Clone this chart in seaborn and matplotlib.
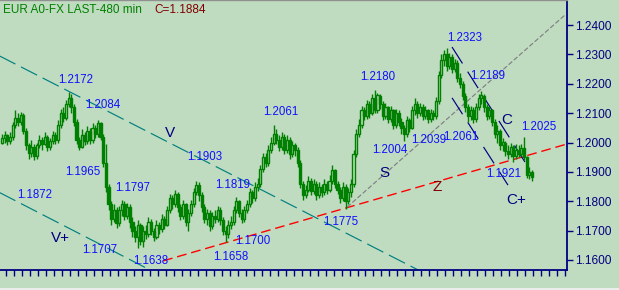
import matplotlib
matplotlib.use("Agg")
import matplotlib.pyplot as plt
import seaborn as sns
import numpy as np
from matplotlib.patches import Rectangle
from matplotlib.ticker import FixedLocator, FuncFormatter

# ---------------- data (prices in 1/10000) ----------------
first_open = 12000
closes = [
    12015, 12025, 12005, 12020, 12060, 12085, 12070, 12095, 12040, 11990,
    11965, 11985, 11955, 11990, 12010, 11995, 12020, 11985, 12005, 12025,
    12010, 12060, 12100, 12085, 12130, 12150, 12120, 12070, 12010, 11985,
    12025, 12005, 12040, 12010, 12050, 12030, 12065, 12020, 11930, 11850,
    11790, 11740, 11770, 11725, 11770, 11790, 11750, 11780, 11730, 11700,
    11680, 11720, 11665, 11700, 11690, 11730, 11700, 11680, 11720, 11705,
    11740, 11720, 11770, 11810, 11790, 11825, 11780, 11750, 11790, 11730,
    11760, 11790, 11830, 11855, 11820, 11780, 11740, 11760, 11715, 11750,
    11740, 11770, 11735, 11700, 11690, 11720, 11730, 11770, 11800, 11760,
    11740, 11770, 11790, 11830, 11810, 11850, 11860, 11910, 11950, 11930,
    11975, 12000, 12030, 12010, 11985, 12020, 11975, 12010, 11960, 11990,
    11975, 11930, 11860, 11820, 11840, 11870, 11835, 11860, 11820, 11850,
    11830, 11860, 11840, 11870, 11905, 11860, 11840, 11810, 11850, 11800,
    11830, 11860, 11960, 12030, 12060, 12110, 12090, 12130, 12100, 12150,
    12110, 12160, 12130, 12090, 12120, 12080, 12110, 12060, 12100, 12070,
    12050, 12030, 12075, 12050, 12110, 12130, 12100, 12120, 12090, 12110,
    12080, 12100, 12090, 12140, 12230, 12280, 12300, 12260, 12290, 12250,
    12270, 12220, 12200, 12160, 12120, 12090, 12110, 12080, 12120, 12150,
    12160, 12120, 12090, 12110, 12070, 12030, 12040, 11990, 12000, 11970,
    11960, 11985, 11955, 11975, 11960, 11980, 11950, 11890, 11900, 11884,
]
highs = [
    12030, 12040, 12030, 12035, 12070, 12110, 12100, 12105, 12100, 12050,
    12000, 12010, 11995, 12000, 12025, 12020, 12035, 12025, 12015, 12040,
    12035, 12075, 12115, 12120, 12145, 12172, 12165, 12130, 12080, 12020,
    12045, 12035, 12055, 12050, 12065, 12060, 12077, 12070, 12030, 11995,
    11860, 11800, 11790, 11780, 11785, 11805, 11800, 11795, 11790, 11745,
    11715, 11735, 11725, 11715, 11720, 11745, 11740, 11710, 11735, 11730,
    11755, 11750, 11785, 11825, 11820, 11838, 11830, 11790, 11805, 11795,
    11775, 11805, 11845, 11870, 11865, 11830, 11790, 11775, 11770, 11765,
    11770, 11785, 11780, 11745, 11715, 11735, 11750, 11785, 11815, 11805,
    11775, 11785, 11805, 11845, 11840, 11865, 11880, 11925, 11965, 11965,
    11990, 12020, 12061, 12045, 12025, 12035, 12030, 12025, 12020, 12005,
    12000, 11985, 11940, 11870, 11855, 11885, 11880, 11875, 11870, 11865,
    11860, 11875, 11870, 11890, 11925, 11910, 11870, 11850, 11865, 11860,
    11845, 11875, 11975, 12045, 12080, 12125, 12120, 12145, 12140, 12165,
    12180, 12170, 12165, 12140, 12135, 12125, 12125, 12115, 12115, 12110,
    12085, 12060, 12090, 12085, 12125, 12150, 12140, 12135, 12130, 12125,
    12115, 12115, 12110, 12155, 12245, 12300, 12315, 12323, 12305, 12300,
    12285, 12280, 12235, 12210, 12170, 12130, 12125, 12120, 12135, 12165,
    12175, 12165, 12130, 12125, 12115, 12080, 12060, 12045, 12015, 12005,
    11990, 12000, 11990, 11995, 11990, 11995, 12020, 11955, 11915, 11905,
]
lows = [
    11995, 12000, 11990, 11995, 12010, 12050, 12055, 12060, 12030, 11975,
    11945, 11950, 11940, 11945, 11980, 11975, 11990, 11970, 11975, 11995,
    11995, 12000, 12050, 12070, 12075, 12120, 12100, 12055, 11995, 11974,
    11980, 11990, 11995, 11995, 12000, 12015, 12020, 12010, 11915, 11830,
    11770, 11720, 11730, 11710, 11715, 11750, 11735, 11740, 11710, 11680,
    11660, 11640, 11650, 11645, 11670, 11680, 11685, 11665, 11670, 11690,
    11695, 11705, 11715, 11760, 11775, 11780, 11765, 11735, 11740, 11715,
    11700, 11750, 11780, 11820, 11800, 11765, 11725, 11720, 11700, 11705,
    11725, 11730, 11720, 11685, 11660, 11675, 11705, 11720, 11760, 11745,
    11725, 11730, 11760, 11780, 11795, 11800, 11835, 11850, 11900, 11915,
    11920, 11965, 11990, 11995, 11970, 11975, 11960, 11965, 11945, 11950,
    11955, 11915, 11845, 11805, 11810, 11830, 11820, 11825, 11805, 11810,
    11815, 11820, 11825, 11830, 11860, 11845, 11825, 11795, 11800, 11775,
    11790, 11815, 11850, 11950, 12020, 12050, 12075, 12080, 12085, 12095,
    12100, 12100, 12115, 12075, 12080, 12065, 12070, 12045, 12050, 12055,
    12030, 12005, 12020, 12035, 12045, 12095, 12085, 12090, 12075, 12080,
    12065, 12070, 12075, 12080, 12130, 12220, 12260, 12245, 12250, 12235,
    12240, 12205, 12185, 12145, 12105, 12070, 12075, 12065, 12070, 12110,
    12130, 12105, 12075, 12080, 12055, 12015, 12000, 11975, 11970, 11955,
    11945, 11950, 11935, 11945, 11950, 11955, 11940, 11880, 11875, 11870,
]

# trend lines: (bar index, price*10000) end points
line_v = [(-1.0, 12295), (156.5, 11565)]
line_vplus = [(-1.0, 11830), (55.8, 11565)]
line_z = [(60.5, 11597), (212.2, 11995)]
line_s = [(129.6, 11780), (211.4, 12434)]
line_c = [(169.0, 12325), (198.3, 11906)]
line_cplus = [(169.0, 12152), (190.0, 11855)]

price_ticks = [1.16, 1.17, 1.18, 1.19, 1.20, 1.21, 1.22, 1.23, 1.24]

# labels: text, pixel x (left), pixel y (center), colour, size
blue = "#1010FF"
labels = [
    ("1.2172", 58, 80, blue, 8.3), ("1.2084", 85, 105, blue, 8.3),
    ("V", 165, 133, "#000080", 11), ("1.1903", 187, 157, blue, 8.3),
    ("1.1965", 65, 172, blue, 8.3), ("1.1872", 17, 195, blue, 8.3),
    ("1.1797", 115, 188, blue, 8.3), ("1.1819", 215, 185, blue, 8.3),
    ("V+", 51, 238, "#000080", 11), ("1.1707", 82, 250, blue, 8.3),
    ("1.1638", 133, 261, blue, 8.3), ("1.1700", 235, 241, blue, 8.3),
    ("1.1658", 213, 257, blue, 8.3), ("1.2061", 263, 112, blue, 8.3),
    ("1.1775", 323, 222, blue, 8.3), ("1.2180", 360, 77, blue, 8.3),
    ("1.2004", 372, 150, blue, 8.3), ("S", 379, 173, "#000080", 11),
    ("1.2039", 411, 140, blue, 8.3), ("1.2061", 443, 137, blue, 8.3),
    ("1.2323", 447, 38, blue, 8.3), ("1.2189", 470, 76, blue, 8.3),
    ("C", 501, 120, "#000080", 11), ("1.2025", 521, 127, blue, 8.3),
    ("1.1921", 486, 174, blue, 8.3), ("Z", 432, 187, "#800000", 11),
    ("C+", 506, 200, "#000080", 11),
]

# ---------------- style ----------------
BG = "#C0DCC0"
GREEN = "#008000"
NAVY = "#000080"
sns.set_theme(style="white", rc={"axes.facecolor": BG, "figure.facecolor": BG,
                                 "lines.scale_dashes": False})
plt.rcParams["font.family"] = ["Liberation Sans", "DejaVu Sans"]

W, H = 619, 290
fig = plt.figure(figsize=(W / 100, H / 100), dpi=100)
ax = fig.add_axes([0, 20 / H, 567 / W, 270 / H])

n = len(closes)
x = np.arange(n)
c = np.array(closes) / 1e4
o = np.array([first_open] + closes[:-1]) / 1e4
hi = np.array(highs) / 1e4
lo = np.array(lows) / 1e4

ax.vlines(x, lo, hi, color=GREEN, lw=1.0, zorder=3)
up = c >= o
ax.bar(x[up], (c - o)[up], bottom=o[up], width=0.8, facecolor=BG,
       edgecolor=GREEN, lw=1.0, zorder=4)
ax.bar(x[~up], (c - o)[~up], bottom=o[~up], width=0.8, facecolor=GREEN,
       edgecolor=GREEN, lw=1.0, zorder=4)


def tline(pts, color, dashes, lw=1.0):
    xs = [p[0] for p in pts]
    ys = [p[1] / 1e4 for p in pts]
    ax.plot(xs, ys, color=color, lw=lw, dashes=dashes, zorder=2,
            solid_capstyle="butt", dash_capstyle="butt")


tline(line_v, "#008080", (13, 4.5), 0.85)
tline(line_vplus, "#008080", (13, 4.5), 0.85)
tline(line_z, "#FF0000", (7, 3.5), 1.0)
tline(line_s, "#808080", (3.5, 1.5), 0.85)
tline(line_c, NAVY, (14, 7), 0.85)
tline(line_cplus, NAVY, (14, 7), 0.85)

ax.set_xlim(-2 / 2.663, 565 / 2.663)
ax.set_ylim(1.24 - 245 / 2937.5, 1.24 + 25 / 2937.5)

# axes styling
ax.spines["left"].set_visible(False)
ax.spines["top"].set_color("#909090")
ax.spines["top"].set_linewidth(1.0)
ax.spines["right"].set_color(NAVY)
ax.spines["right"].set_linewidth(1.3)
ax.spines["bottom"].set_color(NAVY)
ax.spines["bottom"].set_linewidth(1.3)

ax.yaxis.tick_right()
ax.yaxis.set_major_locator(FixedLocator(price_ticks))
ax.yaxis.set_major_formatter(FuncFormatter(lambda v, p: f"{v:.4f}"))
ax.tick_params(axis="y", direction="out", length=4, width=1.0, color=NAVY,
               labelcolor=NAVY, labelsize=8.6, pad=1.5, right=True, left=False)
ax.xaxis.set_major_locator(FixedLocator(np.arange(1.5, 212, 3)))
ax.tick_params(axis="x", direction="out", length=4, width=1.0, color=NAVY,
               labelbottom=False, bottom=True)
ax.grid(False)

# titles
fig.text(3 / W, 1 - 10 / H, "EUR A0-FX LAST-480 min", color=GREEN, fontsize=8.5,
         ha="left", va="center")
fig.text(154 / W, 1 - 10 / H, "C=1.1884", color="#800000", fontsize=8.5,
         ha="left", va="center")

for t, px, py, col, fs in labels:
    fig.text(px / W, 1 - py / H, t, color=col, fontsize=fs, ha="left", va="center")

# bottom strip
fig.patches.append(Rectangle((0, 0), 1, 2.5 / H, transform=fig.transFigure,
                             facecolor="#ECECEC", edgecolor="none"))

fig.savefig("out.png", dpi=100, facecolor=BG)
